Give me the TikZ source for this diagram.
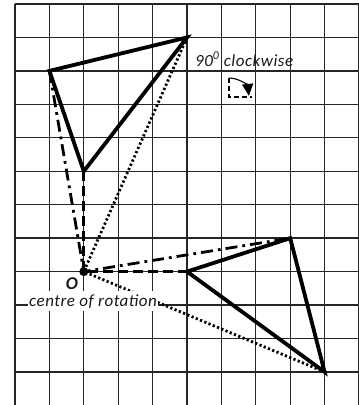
\documentclass[tikz,border=0pt]{standalone}
\usepackage{fontspec}
\setmainfont{Carlito}
\usetikzlibrary{arrows.meta}
\begin{document}
\begin{tikzpicture}[x=1pt,y=-1pt,
  gridline/.style={line width=1.35pt, black!85},
  tri/.style={line width=3.8pt, line join=miter},
  dashedcon/.style={line width=2.8pt, dash pattern=on 10pt off 5pt},
  dashdotcon/.style={line width=2.8pt, dash pattern=on 12pt off 5pt on 2.8pt off 5pt},
  dottedcon/.style={line width=2.8pt, dash pattern=on 2.2pt off 2.4pt},
  lbl/.style={font=\itshape\fontsize{17}{19}\selectfont\addfontfeatures{LetterSpace=3}, text=black!90}
]
\useasboundingbox (0,0) rectangle (359,405);
\begin{scope}
\clip (0,0) rectangle (359,405);
\foreach \i in {0,...,10} \draw[gridline] ({15+34.4*\i},4) -- ({15+34.4*\i},410);
\foreach \j in {0,...,12} \draw[gridline] (15,{4+33.45*\j}) -- (365,{4+33.45*\j});
\end{scope}
% points
\coordinate (A) at (49.4,70.9);
\coordinate (B) at (187,37.45);
\coordinate (C) at (83.8,171.25);
\coordinate (O) at (83.8,271.6);
\coordinate (A2) at (290.2,238.15);
\coordinate (B2) at (324.6,371.95);
\coordinate (C2) at (187,271.6);
% connectors
\draw[dashedcon] (C) -- (O) -- (C2);
\draw[dashdotcon] (A) -- (O) -- (A2);
\draw[dottedcon] (B) -- (O) -- (B2);
% triangles
\draw[tri] (A) -- (B) -- (C) -- cycle;
\draw[tri] (C2) -- (A2) -- (B2) -- cycle;
% labels
\node[lbl, fill=white, anchor=base west, inner xsep=1pt, inner ysep=3pt] (rot) at (28,306) {centre of rotation};
\node[font=\bfseries\itshape\fontsize{18}{20}\selectfont, text=black!90, fill=white, inner sep=1pt, minimum height=24pt, minimum width=17pt] (olbl) at (72,284) {O};
\node[circle, fill, inner sep=0pt, minimum size=9pt] (Odot) at (O) {};
\node[lbl, anchor=base west, inner sep=0pt] (rotlbl) at (195,66) {90\textsuperscript{0} clockwise};
% rotation icon
\coordinate (K) at (229,97);
\draw[line width=1.6pt, dash pattern=on 5pt off 3pt] (229,78) -- (K) -- (252,97);
\draw[line width=1.1pt, -{Triangle[length=12pt,width=11pt]}] (229,78) arc[start angle=-90, end angle=-6, radius=20];
\end{tikzpicture}
\end{document}
